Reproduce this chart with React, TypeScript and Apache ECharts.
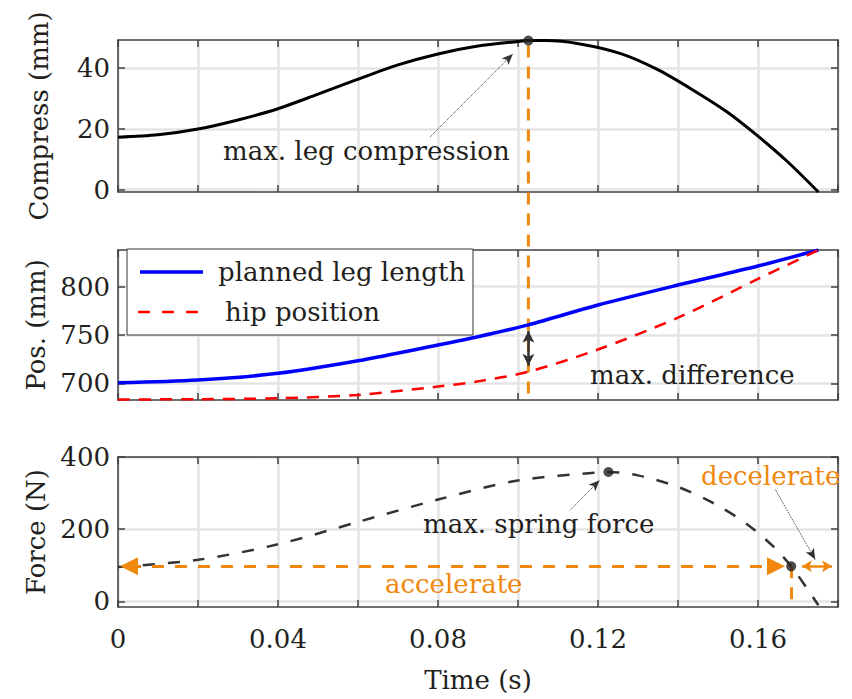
import React, { useEffect, useRef } from 'react';
import * as echarts from 'echarts';

// ---------- data ----------
const timeCompress = [0, 0.01, 0.02, 0.03, 0.04, 0.05, 0.06, 0.07, 0.08, 0.09, 0.1, 0.1026, 0.107, 0.1155, 0.1255, 0.1347, 0.1438, 0.1522, 0.1597, 0.1672, 0.1751];
const compress = [17.2, 18.0, 19.9, 22.9, 26.6, 31.4, 36.3, 41.0, 44.6, 47.2, 48.7, 49.0, 49.0, 47.9, 44.8, 39.6, 32.7, 25.6, 17.9, 9.4, -0.8];

const timePos = [0, 0.02, 0.04, 0.06, 0.08, 0.09, 0.1026, 0.12, 0.14, 0.16, 0.1751];
const legLength = [700.5, 703.4, 710.3, 723.3, 739.6, 748.2, 760.5, 781, 801.7, 821.4, 838];
const hipPos = [683.3, 683.5, 684.5, 688, 696.6, 702, 712, 735, 768, 808, 838];

const timeForce = [0, 0.02, 0.04, 0.06, 0.08, 0.1, 0.12, 0.1226, 0.13, 0.14, 0.149, 0.157, 0.164, 0.1683, 0.1726, 0.1751];
const force = [95, 115, 158, 220, 282, 335, 357, 358.5, 349, 317, 271, 216, 150, 97, 30, -11];

const maxCompress = [0.1026, 49.0];
const maxDiffTime = 0.1026;
const maxDiffTop = 760.5;
const maxDiffBottom = 712;
const maxForce = [0.1226, 358.5];
const switchPoint = [0.1683, 97];

const xTicks = [0, 0.04, 0.08, 0.12, 0.16];
const compressTicks = [0, 20, 40];
const posTicks = [700, 750, 800];
const forceTicks = [0, 200, 400];

const xRange = [0, 0.18];
const compressRange = [-0.8, 49.2];
const posRange = [682.7, 838];
const forceRange = [-15.8, 400];

// ---------- styles ----------
const FONT = 'DejaVu Serif';
const FS = 26;
const TXT = '#231f20';
const ORANGE = '#f0880f';
const AX = '#404040';
const GRID = '#e4e4e4';

const zip = (xs: number[], ys: number[]) => xs.map((x, i) => [x, ys[i]]);

function bottomX(gridIndex: number, showLabels: boolean, name?: string) {
  return {
    type: 'value',
    gridIndex,
    position: 'bottom',
    min: xRange[0],
    max: xRange[1],
    interval: 0.02,
    axisLine: { show: true, onZero: false, lineStyle: { color: AX, width: 1.5 } },
    axisTick: { show: true, inside: true, length: 7, lineStyle: { color: AX, width: 1.5 } },
    splitLine: { show: true, lineStyle: { color: GRID, width: 2.5 } },
    axisLabel: {
      show: showLabels,
      customValues: xTicks,
      margin: 19,
      fontFamily: FONT,
      fontSize: FS,
      color: TXT,
      formatter: (v: number) => (v === 0 ? '0' : String(+v.toFixed(2))),
    },
    name: name || '',
    nameLocation: 'middle',
    nameGap: 60,
    nameTextStyle: { fontFamily: FONT, fontSize: FS, color: TXT },
  };
}

function topX(gridIndex: number) {
  return {
    type: 'value',
    gridIndex,
    position: 'top',
    min: xRange[0],
    max: xRange[1],
    interval: 0.02,
    axisLine: { show: true, onZero: false, lineStyle: { color: AX, width: 1.5 } },
    axisTick: { show: true, inside: true, length: 7, lineStyle: { color: AX, width: 1.5 } },
    splitLine: { show: false },
    axisLabel: { show: false },
  };
}

function leftY(gridIndex: number, range: number[], ticks: number[], name: string) {
  return {
    type: 'value',
    gridIndex,
    position: 'left',
    min: range[0],
    max: range[1],
    axisLine: { show: true, onZero: false, lineStyle: { color: AX, width: 1.5 } },
    axisTick: { show: true, inside: true, length: 7, customValues: ticks, lineStyle: { color: AX, width: 1.5 } },
    splitLine: { show: true, lineStyle: { color: GRID, width: 2.5 } },
    axisLabel: { show: true, customValues: ticks, margin: 8, fontFamily: FONT, fontSize: FS, color: TXT },
    name,
    nameLocation: 'middle',
    nameGap: 66,
    nameRotate: 90,
    nameTextStyle: { fontFamily: FONT, fontSize: FS, color: TXT },
  };
}

function rightY(gridIndex: number, range: number[], ticks: number[]) {
  return {
    type: 'value',
    gridIndex,
    position: 'right',
    min: range[0],
    max: range[1],
    axisLine: { show: true, onZero: false, lineStyle: { color: AX, width: 1.5 } },
    axisTick: { show: true, inside: true, length: 7, customValues: ticks, lineStyle: { color: AX, width: 1.5 } },
    splitLine: { show: false },
    axisLabel: { show: false, customValues: ticks },
  };
}

const dottedArrow = (from: number[], to: number[]) => [
  { coord: from, symbol: 'none', lineStyle: { color: '#333', width: 1, type: 'dotted' } },
  { coord: to, symbol: 'arrow', symbolSize: [7, 11], lineStyle: { color: '#333', width: 1, type: 'dotted' } },
];

export default function App() {
  const ref = useRef<HTMLDivElement>(null);

  useEffect(() => {
    const chart = echarts.init(ref.current!, null, { renderer: 'svg' });
    const option: any = {
      animation: false,
      backgroundColor: '#fff',
      grid: [
        { left: 118, right: 14, top: 40, height: 152 },
        { left: 118, right: 14, top: 250, height: 150 },
        { left: 118, right: 14, top: 457, height: 150 },
      ],
      xAxis: [bottomX(0, false), bottomX(1, false), bottomX(2, true, 'Time (s)'), topX(0), topX(1), topX(2)],
      yAxis: [
        leftY(0, compressRange, compressTicks, 'Compress (mm)'),
        leftY(1, posRange, posTicks, 'Pos. (mm)'),
        leftY(2, forceRange, forceTicks, 'Force (N)'),
        rightY(0, compressRange, compressTicks),
        rightY(1, posRange, posTicks),
        rightY(2, forceRange, forceTicks),
      ],
      series: [
        {
          type: 'line',
          name: 'compress',
          xAxisIndex: 0,
          yAxisIndex: 0,
          data: zip(timeCompress, compress),
          showSymbol: false,
          smooth: 0.3,
          lineStyle: { color: '#000', width: 3 },
          markLine: {
            silent: true,
            label: { show: false },
            data: [dottedArrow([0.078, 17.3], [0.0987, 44.6])],
          },
        },
        {
          type: 'scatter',
          xAxisIndex: 0,
          yAxisIndex: 0,
          data: [maxCompress],
          symbolSize: 10,
          itemStyle: { color: TXT },
          z: 5,
        },
        {
          type: 'line',
          name: 'planned leg length',
          xAxisIndex: 1,
          yAxisIndex: 1,
          data: zip(timePos, legLength),
          showSymbol: false,
          smooth: 0.3,
          lineStyle: { color: '#0000ff', width: 3.5 },
          markLine: {
            silent: true,
            label: { show: false },
            z: 6,
            data: [
              [
                { coord: [maxDiffTime, maxDiffTop - 6.2], symbol: 'arrow', symbolSize: [9, 12], lineStyle: { color: '#333', width: 2.5, type: 'solid' } },
                { coord: [maxDiffTime, maxDiffBottom + 6.2], symbol: 'arrow', symbolSize: [9, 12], lineStyle: { color: '#333', width: 2.5, type: 'solid' } },
              ],
            ],
          },
        },
        {
          type: 'line',
          name: 'hip position',
          xAxisIndex: 1,
          yAxisIndex: 1,
          data: zip(timePos, hipPos),
          showSymbol: false,
          smooth: 0.3,
          lineStyle: { color: '#ff0000', width: 2.5, type: [12, 9] },
        },
        {
          type: 'line',
          name: 'force',
          xAxisIndex: 2,
          yAxisIndex: 2,
          data: zip(timeForce, force),
          showSymbol: false,
          smooth: 0.3,
          lineStyle: { color: '#333', width: 2.5, type: [12, 13] },
          markLine: {
            silent: true,
            label: { show: false },
            data: [
              [
                { coord: [0.00275, switchPoint[1]], symbol: 'triangle', symbolSize: [18, 18], lineStyle: { color: ORANGE, width: 3, type: [12, 11] } },
                { coord: [0.1645, switchPoint[1]], symbol: 'triangle', symbolSize: [18, 18], lineStyle: { color: ORANGE, width: 3, type: [12, 11] } },
              ],
              [
                { coord: [0.171, switchPoint[1]], symbol: 'arrow', symbolSize: [9, 10], lineStyle: { color: ORANGE, width: 2.5, type: 'solid' } },
                { coord: [0.1785, switchPoint[1]], symbol: 'arrow', symbolSize: [9, 10], lineStyle: { color: ORANGE, width: 2.5, type: 'solid' } },
              ],
              [
                { coord: switchPoint, symbol: 'none', lineStyle: { color: ORANGE, width: 3, type: [12, 9] } },
                { coord: [switchPoint[0], forceRange[0]], symbol: 'none', lineStyle: { color: ORANGE, width: 3, type: [12, 9] } },
              ],
              dottedArrow([0.113, 252], [0.1204, 335.6]),
              dottedArrow([0.1643, 310], [0.1743, 115.9]),
            ],
          },
        },
        {
          type: 'scatter',
          xAxisIndex: 2,
          yAxisIndex: 2,
          data: [maxForce, switchPoint],
          symbolSize: 10,
          itemStyle: { color: TXT },
          z: 5,
        },
      ],
    };
    chart.setOption(option);

    const pTop = chart.convertToPixel({ xAxisIndex: 0, yAxisIndex: 0 }, maxCompress) as number[];
    const pBot = chart.convertToPixel({ xAxisIndex: 1, yAxisIndex: 1 }, [maxCompress[0], posRange[0]]) as number[];

    const text = (t: string, x: number, y: number, color = TXT, size = FS) => ({
      type: 'text',
      z: 60,
      style: { text: t, x, y, fill: color, font: `${size}px "${FONT}"`, align: 'left', verticalAlign: 'middle' },
    });

    chart.setOption({
      graphic: [
        {
          type: 'line',
          z: 1,
          shape: { x1: pTop[0], y1: pTop[1] + 5, x2: pBot[0], y2: pBot[1] },
          style: { stroke: ORANGE, lineWidth: 3, lineDash: [12, 9] },
        },
        {
          type: 'rect',
          z: 50,
          shape: { x: 127, y: 249, width: 346, height: 86 },
          style: { fill: '#fff', stroke: '#333', lineWidth: 1 },
        },
        {
          type: 'line',
          z: 55,
          shape: { x1: 140, y1: 272, x2: 203, y2: 272 },
          style: { stroke: '#0000ff', lineWidth: 3.5 },
        },
        {
          type: 'line',
          z: 55,
          shape: { x1: 138, y1: 312, x2: 200, y2: 312 },
          style: { stroke: '#ff0000', lineWidth: 2.5, lineDash: [12, 12] },
        },
        text('planned leg length', 218, 272),
        text('hip position', 225, 312),
        text('max. leg compression', 223, 151),
        text('max. difference', 590, 375),
        text('max. spring force', 423, 524),
        text('accelerate', 385, 584, ORANGE),
        text('decelerate', 701, 476, ORANGE),
      ],
    });

    return () => chart.dispose();
  }, []);

  return <div ref={ref} style={{ position: 'fixed', left: 0, top: 0, width: 852, height: 699 }} />;
}
